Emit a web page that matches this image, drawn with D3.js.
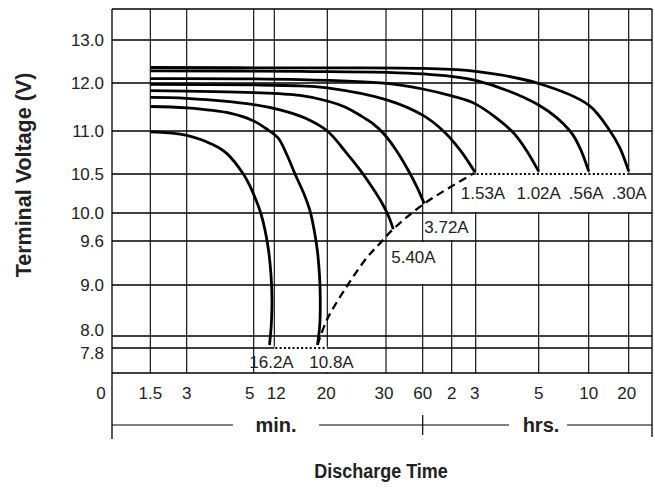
<!DOCTYPE html>
<html>
<head>
<meta charset="utf-8">
<script src="https://cdn.jsdelivr.net/npm/d3@7"></script>
<style>
  body { margin: 0; background: #fff; }
  svg { font-family: "Liberation Sans", Arial, sans-serif; }
</style>
</head>
<body>
<svg id="chart" width="655" height="493"></svg>
<script>
// ---- data ----
// tick times in minutes (hours ticks are 120..1200 min)
const xTickValues = [1.5, 3, 5, 12, 20, 30, 60, 120, 180, 300, 600, 1200];
const xTickLabels = ["1.5", "3", "5", "12", "20", "30", "60", "2", "3", "5", "10", "20"];
const yTickValues = [7.8, 8.0, 9.0, 9.6, 10.0, 10.5, 11.0, 12.0, 13.0];
const yTickLabels = ["7.8", "8.0", "9.0", "9.6", "10.0", "10.5", "11.0", "12.0", "13.0"];

const currents = ["16.2A", "10.8A", "5.40A", "3.72A", "1.53A", "1.02A", ".56A", ".30A"];

// discharge curves: [minutes, volts]
const c16_2 = [[1.5, 10.99], [3, 10.95], [3.67, 10.84], [4.07, 10.74], [4.62, 10.50], [4.86, 10.346],
  [5.51, 10.167], [6.82, 9.986], [8.08, 9.757], [9.38, 9.477], [10.43, 9.136], [10.88, 8.706],
  [10.56, 8.216], [9.79, 7.85]];
const c10_8 = [[1.5, 11.51], [3, 11.48], [4.17, 11.37], [5, 11.21], [8.43, 11.052], [12.44, 10.919],
  [13.56, 10.721], [14.65, 10.5], [15.98, 10.244], [16.93, 10.026], [17.68, 9.729], [18.16, 9.477],
  [18.55, 9.136], [18.69, 8.706], [18.6, 8.216], [18.2, 7.85]];
const c5_40 = [[1.5, 11.70], [3, 11.68], [5, 11.55], [12.68, 11.44], [16.13, 11.271], [20, 11.0],
  [22.6, 10.767], [25.07, 10.547], [27.23, 10.333], [29.18, 10.128], [31.45, 9.957], [34.4, 9.77]];
const c3_72 = [[1.5, 11.84], [5, 11.80], [15.38, 11.74], [20, 11.625], [22.6, 11.5], [25.07, 11.327],
  [27.23, 11.167], [29.59, 10.965], [36.24, 10.779], [45.5, 10.547], [53.86, 10.333], [62.3, 10.12]];
const c1_53 = [[1.5, 11.97], [5, 11.96], [15.38, 11.94], [20, 11.90], [30.4, 11.65], [60, 11.33],
  [98.2, 11.0], [138, 10.78], [177.9, 10.52]];
const c1_02 = [[1.5, 12.10], [15.38, 12.08], [30.4, 11.99], [60, 11.875], [120, 11.73], [180, 11.56],
  [241, 11.0], [268.5, 10.80], [300, 10.53]];
const c0_56 = [[1.5, 12.28], [15.38, 12.27], [60, 12.21], [180, 12.06], [300, 11.54], [463, 11.0],
  [532, 10.80], [600, 10.53]];
const c0_30 = [[1.5, 12.36], [15.38, 12.35], [60, 12.34], [180, 12.27], [300, 11.99], [600, 11.54],
  [868, 11.0], [1032, 10.80], [1200, 10.53]];
const curves = [c16_2, c10_8, c5_40, c3_72, c1_53, c1_02, c0_56, c0_30];

// end-of-discharge boundary (dashed) and cut-off voltage segments (dotted)
const endVoltageLine = [[18.2, 7.85], [19.89, 8.31], [22.87, 8.97], [26.26, 9.37], [28.8, 9.57],
  [34.4, 9.77], [62.3, 10.12], [174.9, 10.51]];
const cutoffLow = [[12, 7.8], [20, 7.8]];
const cutoffHigh = [[180, 10.5], [1200, 10.5]];

// ---- layout ----
const svg = d3.select("#chart");
const mLeft = 112, mTop = 9, W = 540, H = 364;
// the printed time axis is not uniform: place ticks where the sheet puts them
const xTickPos = [38.3, 74.7, 141.7, 162.3, 215.3, 274, 310.7, 339.7, 363.7, 426.7, 476.7, 516.7];
const yTickPos = [339, 327, 276, 232, 204, 165, 122, 74, 31];

const xs = d3.scaleLinear()
  .domain([-0.14, ...xTickValues.map(Math.log10), 3.254])
  .range([0, ...xTickPos, W]);
const x = t => xs(Math.log10(t));
const y = d3.scaleLinear()
  .domain([7.38, ...yTickValues, 13.72])
  .range([H, ...yTickPos, 0]);

const g = svg.append("g").attr("transform", `translate(${mLeft},${mTop})`);

// grid
g.append("g").selectAll("line")
  .data(xTickValues).enter().append("line")
  .attr("x1", d => x(d)).attr("x2", d => x(d))
  .attr("y1", 0).attr("y2", H)
  .attr("stroke", "#000").attr("stroke-width", 1.1);

g.append("g").selectAll("line")
  .data(yTickValues).enter().append("line")
  .attr("x1", 0).attr("x2", W)
  .attr("y1", d => y(d)).attr("y2", d => y(d))
  .attr("stroke", "#000").attr("stroke-width", 1.7);

// frame
g.append("line").attr("x1", 0).attr("x2", W).attr("y1", 0).attr("y2", 0)
  .attr("stroke", "#000").attr("stroke-width", 1.6);
g.append("line").attr("x1", 0).attr("x2", W).attr("y1", H).attr("y2", H)
  .attr("stroke", "#000").attr("stroke-width", 1.7);
g.append("line").attr("x1", 0).attr("x2", 0).attr("y1", 0).attr("y2", H + 66)
  .attr("stroke", "#000").attr("stroke-width", 1.3);
g.append("line").attr("x1", W).attr("x2", W).attr("y1", 0).attr("y2", H + 64)
  .attr("stroke", "#000").attr("stroke-width", 1.3);

// white label boxes hiding grid behind current labels
const boxes = [
  [x(120) + 1.5, y(10.5) + 1, W - 1.5, y(10.0) - 1],
  [x(60) + 1, y(10.0) + 1, x(180) - 2.5, y(9.6) - 1],
  [x(30) + 1, y(9.6) + 1, x(120) - 1.5, y(9.0) - 1],
  [x(5) + 1.5, y(7.8) + 1, x(30) - 26, H - 1]
];
g.append("g").selectAll("rect")
  .data(boxes).enter().append("rect")
  .attr("x", d => d[0]).attr("y", d => d[1])
  .attr("width", d => d[2] - d[0]).attr("height", d => d[3] - d[1])
  .attr("fill", "#fff");

// dotted cut-off segments (blank the grid line first)
[cutoffLow, cutoffHigh].forEach(seg => {
  g.append("line")
    .attr("x1", x(seg[0][0])).attr("x2", x(seg[1][0]))
    .attr("y1", y(seg[0][1])).attr("y2", y(seg[1][1]))
    .attr("stroke", "#fff").attr("stroke-width", 3);
  g.append("line")
    .attr("x1", x(seg[0][0]) + 1).attr("x2", x(seg[1][0]))
    .attr("y1", y(seg[0][1])).attr("y2", y(seg[1][1]))
    .attr("stroke", "#000").attr("stroke-width", 2)
    .attr("stroke-dasharray", "2,2.3");
});

const line = d3.line()
  .x(d => x(d[0])).y(d => y(d[1]))
  .curve(d3.curveCatmullRom.alpha(0.5));

g.append("path")
  .attr("d", line(endVoltageLine))
  .attr("fill", "none").attr("stroke", "#000")
  .attr("stroke-width", 2.3).attr("stroke-dasharray", "8,5");

g.append("g").selectAll("path")
  .data(curves).enter().append("path")
  .attr("d", d => line(d))
  .attr("fill", "none").attr("stroke", "#000")
  .attr("stroke-width", 2.8).attr("stroke-linecap", "butt");

// current labels placed from each curve's last point
const labelOffsets = [[2, 17, "middle"], [14, 17, "middle"], [-2, 28, "start"], [0, 23, "start"],
  [8, 20.5, "middle"], [0, 21.5, "middle"], [-2.5, 21.5, "middle"], [0.5, 21.5, "middle"]];
g.append("g").selectAll("text")
  .data(currents).enter().append("text")
  .attr("x", (d, i) => x(curves[i][curves[i].length - 1][0]) + labelOffsets[i][0])
  .attr("y", (d, i) => y(curves[i][curves[i].length - 1][1]) + labelOffsets[i][1])
  .attr("dy", "0.35em")
  .attr("text-anchor", (d, i) => labelOffsets[i][2])
  .attr("font-size", 17).attr("fill", "#222")
  .text(d => d);

// y tick labels
const yNudge = [5, -6, 0, 0, 0, 0, 0, 0, 0];
g.append("g").selectAll("text")
  .data(yTickValues).enter().append("text")
  .attr("x", -8).attr("y", (d, i) => y(d) + yNudge[i])
  .attr("dy", "0.35em").attr("text-anchor", "end")
  .attr("font-size", 17).attr("fill", "#222")
  .text((d, i) => yTickLabels[i]);

// x tick labels
const xNudge = [0, 0, -4, 2, -1, -2, 0, 0, -1, 0, 0, -2];
const tickY = H + 20;
g.append("g").selectAll("text")
  .data(xTickValues).enter().append("text")
  .attr("x", (d, i) => x(d) + xNudge[i]).attr("y", tickY)
  .attr("dy", "0.35em").attr("text-anchor", "middle")
  .attr("font-size", 17).attr("fill", "#222")
  .text((d, i) => xTickLabels[i]);
g.append("text")
  .attr("x", -11).attr("y", tickY).attr("dy", "0.35em")
  .attr("text-anchor", "middle").attr("font-size", 17).attr("fill", "#222")
  .text("0");

// min. / hrs. bracket line
const unitY = H + 52;
const split = x(60);
[[0, 121], [207, 397], [455, W]].forEach(s => {
  g.append("line").attr("x1", s[0]).attr("x2", s[1])
    .attr("y1", unitY).attr("y2", unitY)
    .attr("stroke", "#000").attr("stroke-width", 1.2);
});
g.append("line").attr("x1", split).attr("x2", split)
  .attr("y1", unitY - 10).attr("y2", unitY + 10)
  .attr("stroke", "#000").attr("stroke-width", 1.2);
g.append("text").attr("x", 164).attr("y", unitY).attr("dy", "0.35em")
  .attr("text-anchor", "middle").attr("font-size", 20).attr("font-weight", "bold")
  .attr("fill", "#222").text("min.");
g.append("text").attr("x", 429).attr("y", unitY).attr("dy", "0.35em")
  .attr("text-anchor", "middle").attr("font-size", 20).attr("font-weight", "bold")
  .attr("fill", "#222").text("hrs.");

// axis titles
svg.append("text")
  .attr("transform", "translate(23,175) rotate(-90)")
  .attr("dy", "0.35em").attr("text-anchor", "middle")
  .attr("font-size", 21.5).attr("font-weight", "bold").attr("fill", "#222")
  .text("Terminal Voltage (V)");
svg.append("text")
  .attr("transform", "translate(381,471) scale(1,1.12)")
  .attr("dy", "0.35em")
  .attr("text-anchor", "middle")
  .attr("font-size", 18).attr("font-weight", "bold").attr("fill", "#222")
  .text("Discharge Time");
</script>
</body>
</html>
